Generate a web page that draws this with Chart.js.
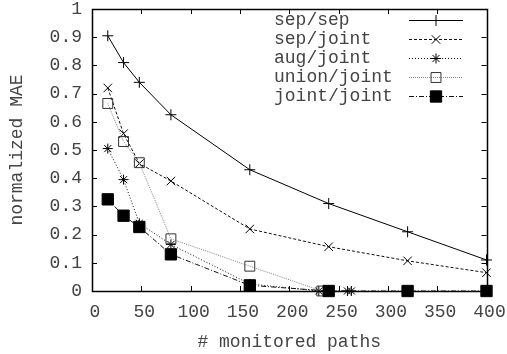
<!DOCTYPE html>
<html lang="en">
<head>
  <meta charset="UTF-8" />
  <title>normalized MAE vs monitored paths</title>
  <style>
    body {
      margin: 0;
      padding: 0;
      background: #fff;
    }
    #wrap {
      width: 507px;
      height: 354px;
    }
  </style>
</head>
<body>
  <div id="wrap"><canvas id="chart" width="507" height="354"></canvas></div>

  <script src="https://cdn.jsdelivr.net/npm/chart.js"></script>
  <script>
    // x = number of monitored paths
    const xMain = [16, 32, 48, 80, 160, 240, 320, 400];
    const xAug = [16, 32, 48, 80, 160, 230, 259, 263];
    const xUnion = [16, 32, 48, 80, 160, 233];

    const sepSep = [0.905, 0.81, 0.74, 0.625, 0.43, 0.31, 0.21, 0.11];
    const sepJoint = [0.72, 0.558, 0.452, 0.39, 0.22, 0.157, 0.107, 0.065];
    const augJoint = [0.505, 0.395, 0.24, 0.165, 0.025, 0, 0, 0];
    const unionJoint = [0.665, 0.53, 0.455, 0.185, 0.088, 0];
    const jointJoint = [0.325, 0.267, 0.227, 0.13, 0.02, 0, 0, 0];

    const xTicks = [0, 50, 100, 150, 200, 250, 300, 350, 400];
    const yTicks = [0, 0.1, 0.2, 0.3, 0.4, 0.5, 0.6, 0.7, 0.8, 0.9, 1];

    const FONT = '"Liberation Mono", "DejaVu Sans Mono", monospace';
    const TEXT = '#444';

    function pts(xs, ys) {
      return ys.map((y, i) => ({ x: xs[i], y: y }));
    }

    const series = [
      { label: 'sep/sep', xs: xMain, ys: sepSep, style: 'cross', r: 5.5, dash: [], color: '#000', mark: '#000', fill: 'rgba(0,0,0,0)', order: 4 },
      { label: 'sep/joint', xs: xMain, ys: sepJoint, style: 'crossRot', r: 6, dash: [3, 2], color: '#111', mark: '#000', fill: 'rgba(0,0,0,0)', order: 3 },
      { label: 'aug/joint', xs: xAug, ys: augJoint, style: 'star', r: 5, dash: [1, 2], color: '#111', mark: '#000', fill: 'rgba(0,0,0,0)', order: 2 },
      { label: 'union/joint', xs: xUnion, ys: unionJoint, style: 'rect', r: 7, dash: [1, 1], color: '#888', mark: '#333', fill: 'rgba(0,0,0,0)', order: 1 },
      { label: 'joint/joint', xs: xMain, ys: jointJoint, style: 'rect', r: 8, dash: [5, 2, 1, 2], color: '#111', mark: '#000', fill: '#000', order: 0 }
    ];

    function drawMarker(ctx, s, x, y) {
      ctx.save();
      ctx.setLineDash([]);
      ctx.lineWidth = 1;
      ctx.strokeStyle = s.mark;
      ctx.fillStyle = s.fill;
      const r = s.r;
      ctx.beginPath();
      if (s.style === 'cross') {
        ctx.moveTo(x - r, y); ctx.lineTo(x + r, y);
        ctx.moveTo(x, y - r); ctx.lineTo(x, y + r);
      } else if (s.style === 'crossRot') {
        const d = r * Math.SQRT1_2;
        ctx.moveTo(x - d, y - d); ctx.lineTo(x + d, y + d);
        ctx.moveTo(x - d, y + d); ctx.lineTo(x + d, y - d);
      } else if (s.style === 'star') {
        const d = r * Math.SQRT1_2;
        ctx.moveTo(x - r, y); ctx.lineTo(x + r, y);
        ctx.moveTo(x, y - r); ctx.lineTo(x, y + r);
        ctx.moveTo(x - d, y - d); ctx.lineTo(x + d, y + d);
        ctx.moveTo(x - d, y + d); ctx.lineTo(x + d, y - d);
      } else {
        const h = r * Math.SQRT1_2;
        ctx.rect(x - h, y - h, 2 * h, 2 * h);
        ctx.fill();
      }
      ctx.stroke();
      ctx.restore();
    }

    // frame + inward ticks on all four sides (gnuplot look)
    const framePlugin = {
      id: 'frame',
      beforeDatasetsDraw(chart) {
        const ctx = chart.ctx;
        const a = chart.chartArea;
        const xs = chart.scales.x, ys = chart.scales.y;
        ctx.save();
        ctx.strokeStyle = '#000';
        ctx.lineWidth = 1;
        ctx.beginPath();
        xTicks.forEach(v => {
          const px = Math.round(xs.getPixelForValue(v)) + 0.5;
          ctx.moveTo(px, a.bottom); ctx.lineTo(px, a.bottom - 5);
          ctx.moveTo(px, a.top); ctx.lineTo(px, a.top + 5);
        });
        yTicks.forEach(v => {
          const py = Math.round(ys.getPixelForValue(v)) + 0.5;
          ctx.moveTo(a.left, py); ctx.lineTo(a.left + 5, py);
          ctx.moveTo(a.right, py); ctx.lineTo(a.right - 5, py);
        });
        ctx.stroke();
        ctx.lineWidth = 1.5;
        ctx.strokeRect(Math.round(a.left) + 0.5, Math.round(a.top) + 0.5,
          Math.round(a.right - a.left), Math.round(a.bottom - a.top));
        ctx.restore();
      },
      afterDatasetsDraw(chart) {
        const ctx = chart.ctx;
        ctx.save();
        ctx.font = '18px ' + FONT;
        ctx.fillStyle = TEXT;
        ctx.textBaseline = 'middle';
        series.forEach((s, i) => {
          const y = 20 + i * 19;
          ctx.textAlign = 'left';
          ctx.fillText(s.label, 274, y);
          ctx.strokeStyle = s.color;
          ctx.lineWidth = 1;
          ctx.setLineDash(s.dash);
          ctx.beginPath();
          ctx.moveTo(409, y + 0.5);
          ctx.lineTo(463, y + 0.5);
          ctx.stroke();
          drawMarker(ctx, s, 436, y + 0.5);
        });
        ctx.restore();
      }
    };

    const datasets = series.map(s => ({
      label: s.label,
      data: pts(s.xs, s.ys),
      borderColor: s.color,
      borderWidth: 1,
      borderDash: s.dash,
      pointStyle: s.style,
      pointRadius: s.r,
      pointBorderColor: s.mark,
      pointBackgroundColor: s.fill,
      pointBorderWidth: 1,
      fill: false,
      tension: 0,
      clip: false,
      order: s.order
    }));

    new Chart(document.getElementById('chart').getContext('2d'), {
      type: 'line',
      data: { datasets: datasets },
      plugins: [framePlugin],
      options: {
        responsive: false,
        animation: false,
        events: [],
        layout: { padding: { left: 0, right: 20.5, top: 5, bottom: 0 } },
        plugins: {
          legend: { display: false },
          tooltip: { enabled: false }
        },
        scales: {
          x: {
            type: 'linear',
            min: 0,
            max: 400,
            grid: { display: false, drawTicks: false },
            border: { display: false },
            afterBuildTicks: s => { s.ticks = xTicks.map(v => ({ value: v })); },
            afterFit: s => { s.height = 63; s.paddingLeft = 0; s.paddingRight = 0; },
            ticks: {
              padding: 10,
              labelOffset: 3,
              maxRotation: 0,
              autoSkip: false,
              color: TEXT,
              font: { family: FONT, size: 18 }
            },
            title: {
              display: true,
              text: '# monitored paths',
              color: TEXT,
              font: { family: FONT, size: 18 },
              padding: { top: 0, bottom: 1 }
            }
          },
          y: {
            type: 'linear',
            min: 0,
            max: 1,
            grid: { display: false, drawTicks: false },
            border: { display: false },
            afterBuildTicks: s => { s.ticks = yTicks.map(v => ({ value: v })); },
            afterFit: s => { s.width = 92; s.paddingTop = 0; s.paddingBottom = 0; },
            ticks: {
              padding: 10,
              autoSkip: false,
              color: TEXT,
              font: { family: FONT, size: 18 },
              callback: v => String(+v.toFixed(1))
            },
            title: {
              display: true,
              text: 'normalized MAE',
              color: TEXT,
              font: { family: FONT, size: 18 },
              padding: { top: 6, bottom: 0 }
            }
          }
        }
      }
    });
  </script>
</body>
</html>
